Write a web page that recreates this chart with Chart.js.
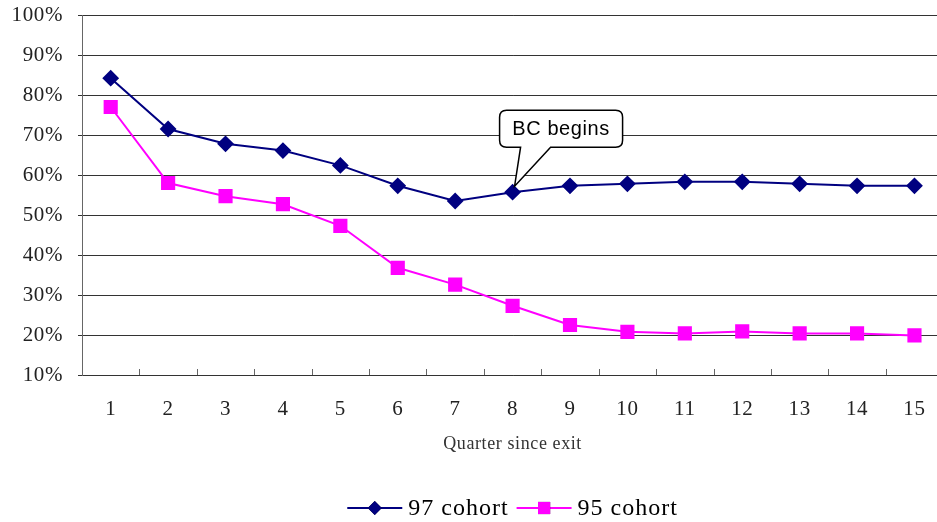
<!DOCTYPE html>
<html>
<head>
<meta charset="utf-8">
<script src="https://cdn.jsdelivr.net/npm/chart.js@4/dist/chart.umd.min.js"></script>
<style>
  html, body { margin: 0; padding: 0; background: #fff; overflow: hidden; }
  #wrap { width: 947px; height: 522px; }
  #grafico { width: 947px !important; height: 522px !important; max-width: none !important; }
</style>
</head>
<body>
<div id="wrap"><canvas id="grafico" width="947" height="522"></canvas></div>
<script>
// dados (% por trimestre)
const quarters = ['1', '2', '3', '4', '5', '6', '7', '8', '9', '10', '11', '12', '13', '14', '15'];
const cohort97 = [84.2, 71.5, 67.8, 66.1, 62.4, 57.3, 53.5, 55.7, 57.3, 57.8, 58.3, 58.3, 57.8, 57.3, 57.3];
const cohort95 = [77.0, 58.0, 54.7, 52.7, 47.3, 36.8, 32.6, 27.3, 22.5, 20.8, 20.4, 20.9, 20.4, 20.4, 19.9];
const yTicks = [10, 20, 30, 40, 50, 60, 70, 80, 90, 100];
const calloutText = 'BC begins';
const calloutIndex = 7; // trimestre 8

const serif = '"Liberation Serif", "DejaVu Serif", serif';

// espaçamento entre letras (fonte original é mais larga)
const spacing = {
  id: 'spacing',
  beforeDraw(chart) { chart.ctx.letterSpacing = '0.6px'; }
};

// balão "BC begins" ligado ao ponto do trimestre 8
const callout = {
  id: 'callout',
  afterDatasetsDraw(chart) {
    const pt = chart.getDatasetMeta(0).data[calloutIndex];
    if (!pt) return;
    const ctx = chart.ctx;
    const px = pt.x, py = pt.y;
    const l = px - 13, r = px + 110, t = py - 82, b = py - 45, rad = 7;
    ctx.save();
    ctx.beginPath();
    ctx.moveTo(l + rad, t);
    ctx.lineTo(r - rad, t);
    ctx.quadraticCurveTo(r, t, r, t + rad);
    ctx.lineTo(r, b - rad);
    ctx.quadraticCurveTo(r, b, r - rad, b);
    ctx.lineTo(px + 38, b);
    ctx.lineTo(px + 2, py - 6);
    ctx.lineTo(px + 8, b);
    ctx.lineTo(l + rad, b);
    ctx.quadraticCurveTo(l, b, l, b - rad);
    ctx.lineTo(l, t + rad);
    ctx.quadraticCurveTo(l, t, l + rad, t);
    ctx.closePath();
    ctx.fillStyle = '#fff';
    ctx.fill();
    ctx.lineWidth = 1.5;
    ctx.strokeStyle = '#000';
    ctx.stroke();
    ctx.fillStyle = '#000';
    ctx.font = '20px "Liberation Sans", Arial, sans-serif';
    ctx.textAlign = 'center';
    ctx.textBaseline = 'middle';
    ctx.fillText(calloutText, (l + r) / 2, (t + b) / 2 + 1);
    ctx.restore();
  }
};

// marcas do eixo x voltadas para dentro + legenda com linha e marcador
const extras = {
  id: 'extras',
  afterDraw(chart) {
    const ctx = chart.ctx;
    const x = chart.scales.x;
    const area = chart.chartArea;
    ctx.save();
    ctx.strokeStyle = '#666';
    ctx.lineWidth = 1;
    for (let i = 1; i < quarters.length; i++) {
      const bx = Math.round((x.getPixelForValue(i - 1) + x.getPixelForValue(i)) / 2) + 0.5;
      ctx.beginPath();
      ctx.moveTo(bx, area.bottom);
      ctx.lineTo(bx, area.bottom - 6);
      ctx.stroke();
    }

    // legenda
    ctx.font = '24px ' + serif;
    ctx.letterSpacing = '1px';
    ctx.textBaseline = 'middle';
    ctx.textAlign = 'left';
    const lineW = 55, gap = 6, itemGap = 8;
    const items = chart.data.datasets.map(ds => ({ ds, w: lineW + gap + ctx.measureText(ds.label).width }));
    const total = items.reduce((s, it) => s + it.w, 0) + itemGap * (items.length - 1);
    let cx = (area.left + area.right) / 2 - total / 2;
    const ly = 508;
    items.forEach(it => {
      ctx.strokeStyle = it.ds.borderColor;
      ctx.lineWidth = 2;
      ctx.beginPath();
      ctx.moveTo(cx, ly);
      ctx.lineTo(cx + lineW, ly);
      ctx.stroke();
      Chart.helpers.drawPoint(ctx, {
        pointStyle: it.ds.pointStyle,
        radius: it.ds.pointRadius,
        borderWidth: 0
      }, cx + lineW / 2, ly);
      ctx.fillStyle = it.ds.pointBackgroundColor;
      ctx.fill();
      ctx.fillStyle = '#000';
      ctx.fillText(it.ds.label, cx + lineW + gap, ly + 1);
      cx += it.w + itemGap;
    });
    ctx.restore();
  }
};

const ctx = document.getElementById('grafico').getContext('2d');
new Chart(ctx, {
  type: 'line',
  data: {
    labels: quarters,
    datasets: [
      {
        label: '97 cohort',
        data: cohort97,
        borderColor: '#000080',
        backgroundColor: '#000080',
        pointBackgroundColor: '#000080',
        pointBorderColor: '#000080',
        pointStyle: 'rectRot',
        pointRadius: 7,
        borderWidth: 2,
        tension: 0
      },
      {
        label: '95 cohort',
        data: cohort95,
        borderColor: '#ff00ff',
        backgroundColor: '#ff00ff',
        pointBackgroundColor: '#ff00ff',
        pointBorderColor: '#ff00ff',
        pointStyle: 'rect',
        pointRadius: 8.6,
        borderWidth: 2,
        tension: 0
      }
    ]
  },
  options: {
    responsive: false,
    animation: false,
    layout: { autoPadding: false, padding: { top: 15, right: 1, bottom: 62, left: 0 } },
    plugins: {
      legend: { display: false },
      tooltip: { enabled: false }
    },
    scales: {
      x: {
        offset: true,
        grid: { display: false, drawTicks: false },
        border: { display: false },
        ticks: {
          color: '#222',
          padding: 22,
          font: { family: serif, size: 21 },
          maxRotation: 0
        },
        title: {
          display: true,
          text: 'Quarter since exit',
          color: '#333',
          font: { family: serif, size: 18 },
          padding: { top: 0, bottom: 5 }
        },
        afterFit(scale) { scale.height = 85; }
      },
      y: {
        min: 10,
        max: 100,
        afterBuildTicks(scale) { scale.ticks = yTicks.map(v => ({ value: v })); },
        grid: { color: '#333', lineWidth: 1, tickLength: 4 },
        border: { color: '#666', width: 1 },
        ticks: {
          color: '#222',
          padding: 15,
          font: { family: serif, size: 21 },
          callback: v => v + '%'
        },
        afterFit(scale) {
          scale.width = 82;
          scale.paddingTop = 0;
          scale.paddingBottom = 0;
        }
      }
    }
  },
  plugins: [spacing, callout, extras]
});
</script>
</body>
</html>
